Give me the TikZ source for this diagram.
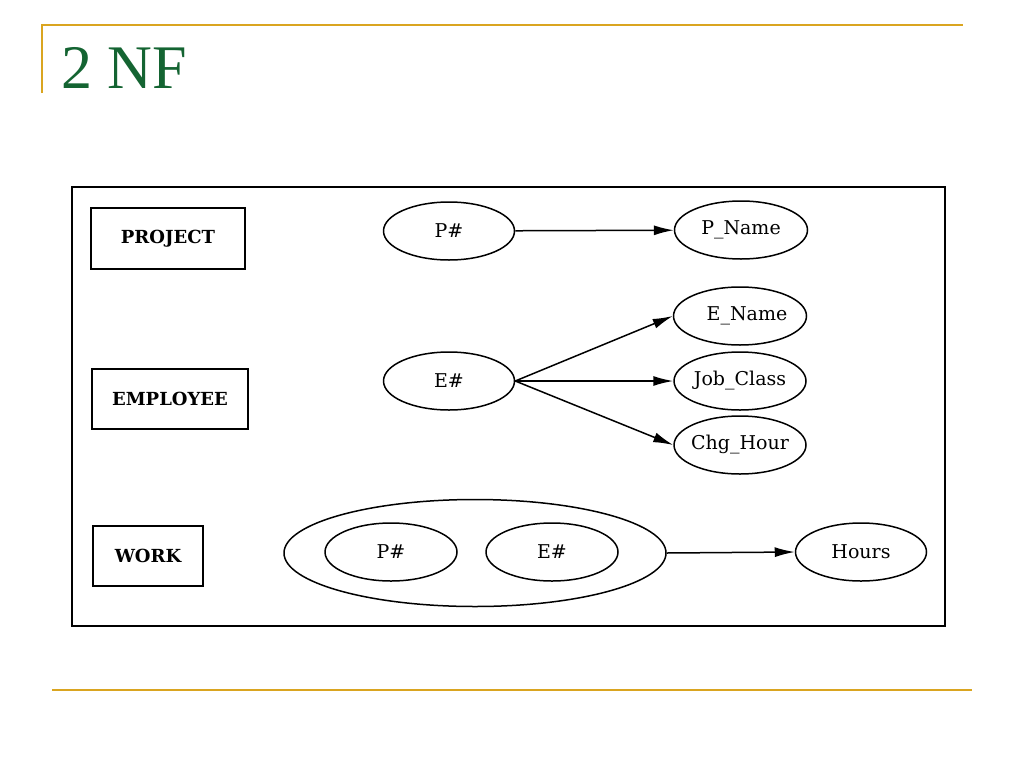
\documentclass[tikz,border=0pt]{standalone}
\usepackage{fontspec}
\setmainfont{Liberation Serif}
\newfontfamily\labelfont{DejaVu Serif}
\usetikzlibrary{shapes.geometric,arrows.meta}
\definecolor{gold}{RGB}{218,165,32}
\definecolor{titlegreen}{RGB}{20,100,50}
\tikzset{
  entity/.style={draw=black, line width=1.5pt, inner sep=0pt, font=\labelfont\fontsize{18}{20}\selectfont\bfseries},
  attr/.style={draw=black, ellipse, line width=1.5pt, inner xsep=-25pt, inner ysep=0pt, minimum width=131pt, minimum height=58pt, font=\labelfont\fontsize{19}{21}\selectfont},
  link/.style={line width=1.5pt, -{Latex[length=20pt,width=10pt]}},
  goldline/.style={draw=gold, line width=2.2pt}
}
\begin{document}
\begin{tikzpicture}[x=1pt,y=-1pt]
\useasboundingbox (0,0) rectangle (1024,768);
% slide decoration
\coordinate (gl1) at (42,25);
\coordinate (gl2) at (963,25);
\coordinate (gl3) at (42,93);
\coordinate (gb1) at (52,690);
\coordinate (gb2) at (972,690);
\draw[goldline] (gl3) -- (gl1) -- (gl2);
\draw[goldline] (gb1) -- (gb2);
\node[anchor=base west, inner sep=0pt, text=titlegreen, font=\fontsize{62}{70}\selectfont] (title) at (61,88) {2 NF};
% frame
\draw[line width=1.6pt] (72,187) rectangle (945,626);
% entities
\node[entity, minimum width=154pt, minimum height=61pt] (project) at (168,238.5) {PROJECT};
\node[entity, minimum width=156pt, minimum height=60pt] (employee) at (170,399) {EMPLOYEE};
\node[entity, minimum width=110pt, minimum height=60pt] (work) at (148,556) {WORK};
% attributes
\node[attr] (pnum) at (449,231) {P\#};
\node[attr, minimum width=133pt] (pname) at (741,230) {P\_Name};
\node[attr] (enum) at (449,381) {E\#};
\node[attr, minimum width=133pt] (ename) at (740,316) {\hspace*{14pt}E\_Name};
\node[attr, minimum width=132pt] (jobclass) at (740,381) {Job\_Class};
\node[attr, minimum width=132pt] (chghour) at (740,445) {Chg\_Hour};
\node[attr, minimum width=382pt, minimum height=107pt] (key) at (475,553) {};
\node[attr, minimum width=132pt] (wpnum) at (391,552) {P\#};
\node[attr, minimum width=132pt] (wenum) at (552,552) {E\#};
\node[attr, minimum width=131pt] (hours) at (861,552) {Hours};
% dependencies
\draw[link] (pnum) -- (pname);
\draw[link] (enum.east) -- (ename.west);
\draw[link] (enum.east) -- (jobclass.west);
\draw[link] (enum.east) -- (chghour.west);
\draw[link] (key.east) -- (hours.west);
\end{tikzpicture}
\end{document}
